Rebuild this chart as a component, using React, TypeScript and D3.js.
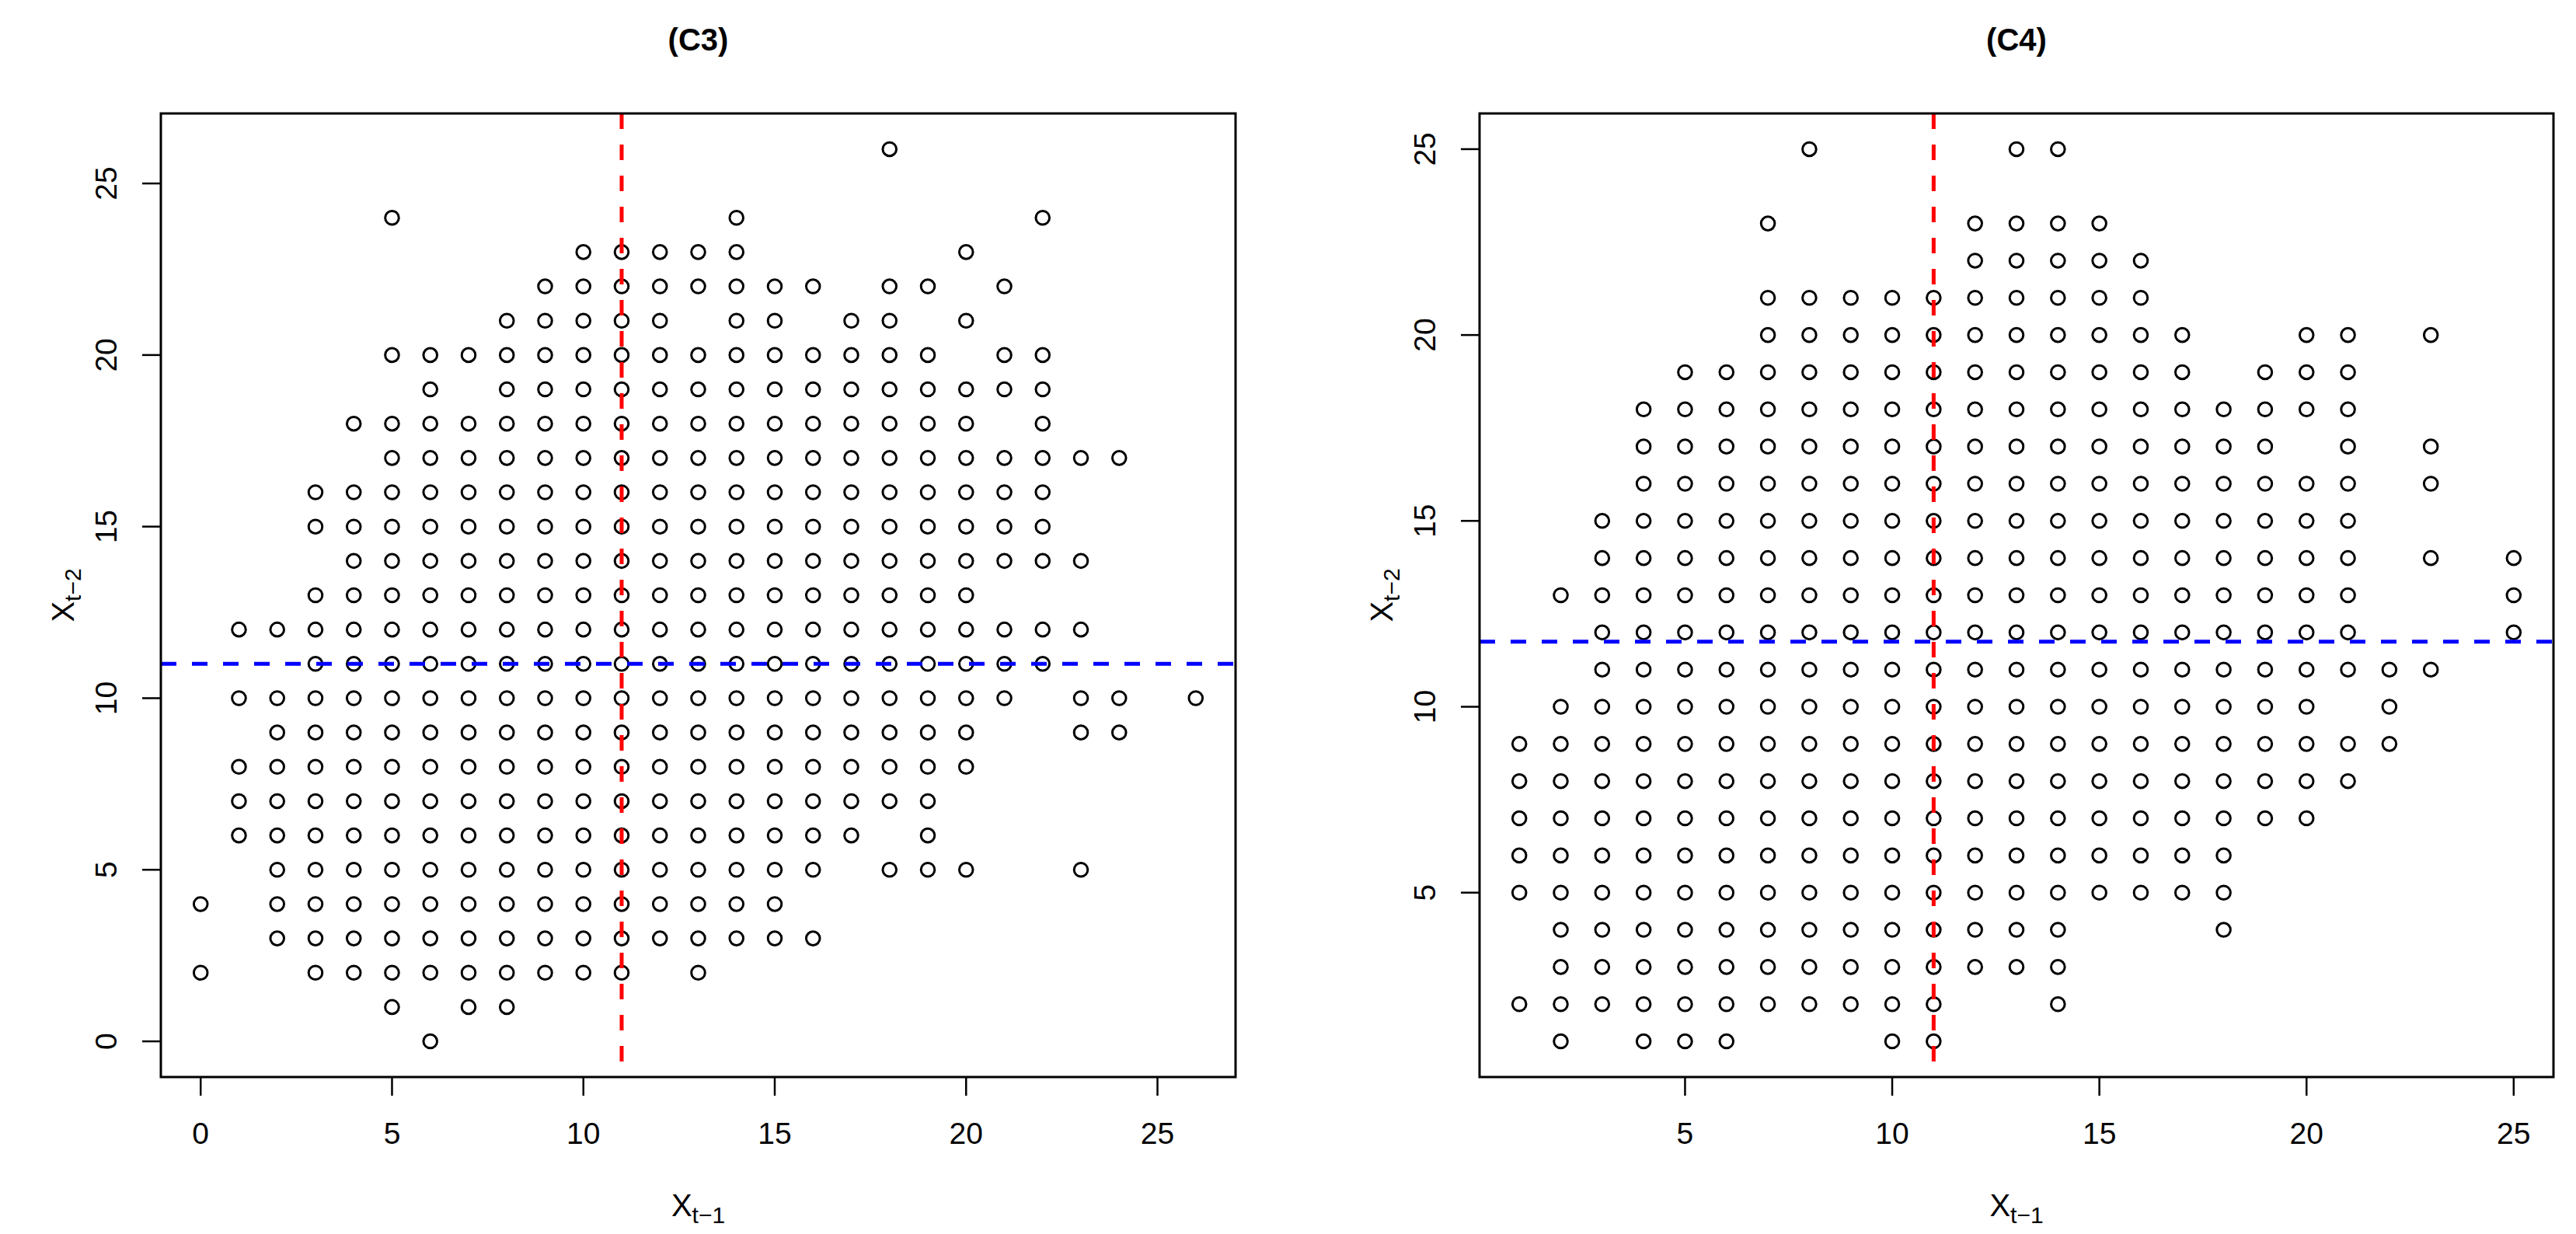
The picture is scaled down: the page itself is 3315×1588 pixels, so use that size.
import React from 'react';
import * as d3 from 'd3';

// (C3) panel: x = X_{t-1}, each list holds the X_{t-2} values seen at that x
const c3X = [0, 1, 2, 3, 4, 5, 6, 7, 8, 9, 10, 11, 12, 13, 14, 15, 16, 17, 18, 19, 20, 21, 22, 23, 24, 26];
const c3Y: number[][] = [
  [2, 4],
  [6, 7, 8, 10, 12],
  [3, 4, 5, 6, 7, 8, 9, 10, 12],
  [2, 3, 4, 5, 6, 7, 8, 9, 10, 11, 12, 13, 15, 16],
  [2, 3, 4, 5, 6, 7, 8, 9, 10, 11, 12, 13, 14, 15, 16, 18],
  [1, 2, 3, 4, 5, 6, 7, 8, 9, 10, 11, 12, 13, 14, 15, 16, 17, 18, 20, 24],
  [0, 2, 3, 4, 5, 6, 7, 8, 9, 10, 11, 12, 13, 14, 15, 16, 17, 18, 19, 20],
  [1, 2, 3, 4, 5, 6, 7, 8, 9, 10, 11, 12, 13, 14, 15, 16, 17, 18, 20],
  [1, 2, 3, 4, 5, 6, 7, 8, 9, 10, 11, 12, 13, 14, 15, 16, 17, 18, 19, 20, 21],
  [2, 3, 4, 5, 6, 7, 8, 9, 10, 11, 12, 13, 14, 15, 16, 17, 18, 19, 20, 21, 22],
  [2, 3, 4, 5, 6, 7, 8, 9, 10, 11, 12, 13, 14, 15, 16, 17, 18, 19, 20, 21, 22, 23],
  [2, 3, 4, 5, 6, 7, 8, 9, 10, 11, 12, 13, 14, 15, 16, 17, 18, 19, 20, 21, 22, 23],
  [3, 4, 5, 6, 7, 8, 9, 10, 11, 12, 13, 14, 15, 16, 17, 18, 19, 20, 21, 22, 23],
  [2, 3, 4, 5, 6, 7, 8, 9, 10, 11, 12, 13, 14, 15, 16, 17, 18, 19, 20, 22, 23],
  [3, 4, 5, 6, 7, 8, 9, 10, 11, 12, 13, 14, 15, 16, 17, 18, 19, 20, 21, 22, 23, 24],
  [3, 4, 5, 6, 7, 8, 9, 10, 11, 12, 13, 14, 15, 16, 17, 18, 19, 20, 21, 22],
  [3, 5, 6, 7, 8, 9, 10, 11, 12, 13, 14, 15, 16, 17, 18, 19, 20, 22],
  [6, 7, 8, 9, 10, 11, 12, 13, 14, 15, 16, 17, 18, 19, 20, 21],
  [5, 7, 8, 9, 10, 11, 12, 13, 14, 15, 16, 17, 18, 19, 20, 21, 22, 26],
  [5, 6, 7, 8, 9, 10, 11, 12, 13, 14, 15, 16, 17, 18, 19, 20, 22],
  [5, 8, 9, 10, 11, 12, 13, 14, 15, 16, 17, 18, 19, 21, 23],
  [10, 11, 12, 14, 15, 16, 17, 19, 20, 22],
  [11, 12, 14, 15, 16, 17, 18, 19, 20, 24],
  [5, 9, 10, 12, 14, 17],
  [9, 10, 17],
  [10],
];

// (C4) panel
const c4X = [1, 2, 3, 4, 5, 6, 7, 8, 9, 10, 11, 12, 13, 14, 15, 16, 17, 18, 19, 20, 21, 22, 23, 25];
const c4Y: number[][] = [
  [2, 5, 6, 7, 8, 9],
  [1, 2, 3, 4, 5, 6, 7, 8, 9, 10, 13],
  [2, 3, 4, 5, 6, 7, 8, 9, 10, 11, 12, 13, 14, 15],
  [1, 2, 3, 4, 5, 6, 7, 8, 9, 10, 11, 12, 13, 14, 15, 16, 17, 18],
  [1, 2, 3, 4, 5, 6, 7, 8, 9, 10, 11, 12, 13, 14, 15, 16, 17, 18, 19],
  [1, 2, 3, 4, 5, 6, 7, 8, 9, 10, 11, 12, 13, 14, 15, 16, 17, 18, 19],
  [2, 3, 4, 5, 6, 7, 8, 9, 10, 11, 12, 13, 14, 15, 16, 17, 18, 19, 20, 21, 23],
  [2, 3, 4, 5, 6, 7, 8, 9, 10, 11, 12, 13, 14, 15, 16, 17, 18, 19, 20, 21, 25],
  [2, 3, 4, 5, 6, 7, 8, 9, 10, 11, 12, 13, 14, 15, 16, 17, 18, 19, 20, 21],
  [1, 2, 3, 4, 5, 6, 7, 8, 9, 10, 11, 12, 13, 14, 15, 16, 17, 18, 19, 20, 21],
  [1, 2, 3, 4, 5, 6, 7, 8, 9, 10, 11, 12, 13, 14, 15, 16, 17, 18, 19, 20, 21],
  [3, 4, 5, 6, 7, 8, 9, 10, 11, 12, 13, 14, 15, 16, 17, 18, 19, 20, 21, 22, 23],
  [3, 4, 5, 6, 7, 8, 9, 10, 11, 12, 13, 14, 15, 16, 17, 18, 19, 20, 21, 22, 23, 25],
  [2, 3, 4, 5, 6, 7, 8, 9, 10, 11, 12, 13, 14, 15, 16, 17, 18, 19, 20, 21, 22, 23, 25],
  [5, 6, 7, 8, 9, 10, 11, 12, 13, 14, 15, 16, 17, 18, 19, 20, 21, 22, 23],
  [5, 6, 7, 8, 9, 10, 11, 12, 13, 14, 15, 16, 17, 18, 19, 20, 21, 22],
  [5, 6, 7, 8, 9, 10, 11, 12, 13, 14, 15, 16, 17, 18, 19, 20],
  [4, 5, 6, 7, 8, 9, 10, 11, 12, 13, 14, 15, 16, 17, 18],
  [7, 8, 9, 10, 11, 12, 13, 14, 15, 16, 17, 18, 19],
  [7, 8, 9, 10, 11, 12, 13, 14, 15, 16, 18, 19, 20],
  [8, 9, 11, 12, 13, 14, 15, 16, 17, 18, 19, 20],
  [9, 10, 11],
  [11, 14, 16, 17, 20],
  [12, 13, 14],
];

const c3XTicks = [0, 5, 10, 15, 20, 25];
const c3YTicks = [0, 5, 10, 15, 20, 25];
const c4XTicks = [5, 10, 15, 20, 25];
const c4YTicks = [5, 10, 15, 20, 25];

// mean lines (red: X_{t-1}, blue: X_{t-2})
const c3Means = { x: 11, y: 11 };
const c4Means = { x: 11, y: 11.75 };

const W = 3315;
const H = 1588;
const FONT = '"Liberation Sans", Arial, Helvetica, sans-serif';
const TOP = 146;
const BOTTOM = 1386;

type PanelProps = {
  title: string;
  left: number;
  right: number;
  xs: number[];
  ys: number[][];
  xTicks: number[];
  yTicks: number[];
  means: { x: number; y: number };
  domain: [number, number];
};

function Panel({ title, left, right, xs, ys, xTicks, yTicks, means, domain }: PanelProps) {
  const x = d3.scaleLinear().domain(domain).range([left, right]);
  const y = d3.scaleLinear().domain(domain).range([BOTTOM, TOP]);
  const pts = xs.flatMap((xv, i) => ys[i].map((yv) => [xv, yv]));
  const cx = (left + right) / 2;
  const cy = (TOP + BOTTOM) / 2;
  const ylabX = left - 112;

  return (
    <g>
      <text x={cx} y={65} textAnchor="middle" fontSize={40} fontWeight="bold" fontFamily={FONT}>
        {title}
      </text>

      {pts.map((p, i) => (
        <circle key={i} cx={x(p[0])} cy={y(p[1])} r={8.8} fill="none" stroke="#000" strokeWidth={3} />
      ))}

      <line x1={x(means.x)} x2={x(means.x)} y1={TOP} y2={BOTTOM} stroke="#ff0000" strokeWidth={5} strokeDasharray="20 20" />
      <line x1={left} x2={right} y1={y(means.y)} y2={y(means.y)} stroke="#0000ff" strokeWidth={5} strokeDasharray="20 20" />

      <rect x={left} y={TOP} width={right - left} height={BOTTOM - TOP} fill="none" stroke="#000" strokeWidth={3} />

      {xTicks.map((t) => (
        <g key={'x' + t}>
          <line x1={x(t)} x2={x(t)} y1={BOTTOM} y2={BOTTOM + 24} stroke="#000" strokeWidth={2.5} />
          <text x={x(t)} y={1472} textAnchor="middle" fontSize={39} fontFamily={FONT}>{t}</text>
        </g>
      ))}
      {yTicks.map((t) => (
        <g key={'y' + t}>
          <line x1={left - 24} x2={left} y1={y(t)} y2={y(t)} stroke="#000" strokeWidth={2.5} />
          <text transform={`translate(${left - 57},${y(t)}) rotate(-90)`} textAnchor="middle" fontSize={39} fontFamily={FONT}>{t}</text>
        </g>
      ))}

      <text x={cx} y={1565} textAnchor="middle" fontSize={40} fontFamily={FONT}>
        X<tspan fontSize={30} dy={9}>t−1</tspan>
      </text>
      <text transform={`translate(${ylabX},${cy}) rotate(-90)`} textAnchor="middle" fontSize={40} fontFamily={FONT}>
        X<tspan fontSize={30} dy={9}>t−2</tspan>
      </text>
    </g>
  );
}

export default function App() {
  return (
    <svg width={W} height={H} style={{ position: 'absolute', left: 0, top: 0, background: '#fff' }}>
      <rect width={W} height={H} fill="#fff" />
      <Panel title="(C3)" left={207} right={1590} xs={c3X} ys={c3Y} xTicks={c3XTicks} yTicks={c3YTicks} means={c3Means} domain={[-1.04, 27.04]} />
      <Panel title="(C4)" left={1904} right={3286} xs={c4X} ys={c4Y} xTicks={c4XTicks} yTicks={c4YTicks} means={c4Means} domain={[0.04, 25.96]} />
    </svg>
  );
}
